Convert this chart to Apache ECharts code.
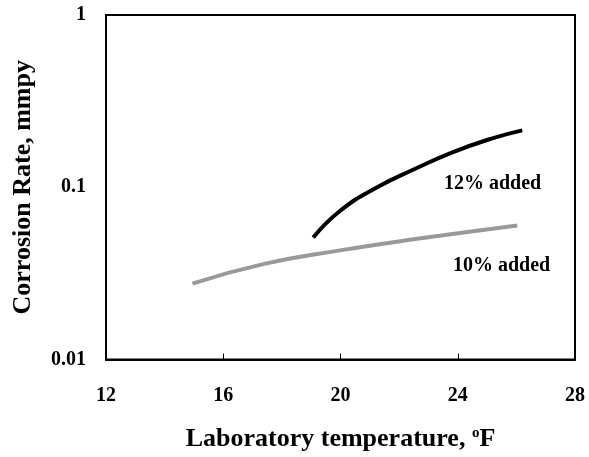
<!DOCTYPE html>
<html>
<head>
<meta charset="utf-8">
<script src="https://cdn.jsdelivr.net/npm/echarts@6/dist/echarts.min.js"></script>
<style>html,body{margin:0;padding:0;background:#fff}#main{width:589px;height:457px}</style>
</head>
<body>
<div id="main"></div>
<script>
var temp12 = [19.07, 19.99, 21.25, 22.55, 23.84, 25.12, 26.2];
var rate12 = [0.051, 0.073, 0.100, 0.128, 0.160, 0.191, 0.214];
var temp10 = [14.95, 17.4, 19.98, 22.55, 26.03];
var rate10 = [0.0276, 0.0359, 0.043, 0.050, 0.060];

var myChart = echarts.init(document.getElementById('main'));
var font = '"Liberation Serif", "Times New Roman", serif';

function pairs(xs, ys) {
    return xs.map(function (x, i) { return [x, ys[i]]; });
}

var option = {
    animation: false,
    grid: {
        left: 106, right: 14, top: 15, bottom: 97,
        show: true, borderColor: '#000', borderWidth: 2
    },
    xAxis: {
        type: 'value', min: 12, max: 28, interval: 4,
        name: 'Laboratory temperature, {s|o}F',
        nameLocation: 'middle', nameGap: 66,
        nameTextStyle: {
            fontFamily: font, fontWeight: 'bold', fontSize: 26, color: '#000',
            rich: { s: { fontFamily: font, fontWeight: 'bold', fontSize: 15, verticalAlign: 'top', color: '#000', padding: [0, 0, 12, 0] } }
        },
        axisLine: { lineStyle: { color: '#000', width: 2 } },
        axisTick: { inside: true, length: 6, lineStyle: { color: '#000' } },
        axisLabel: { fontFamily: font, fontWeight: 'bold', fontSize: 20, color: '#000', margin: 26 },
        splitLine: { show: false }
    },
    yAxis: {
        type: 'log', min: 0.01, max: 1, logBase: 10,
        name: 'Corrosion Rate, mmpy',
        nameLocation: 'middle', nameGap: 70,
        nameTextStyle: { fontFamily: font, fontWeight: 'bold', fontSize: 26, color: '#000' },
        axisLine: { lineStyle: { color: '#000', width: 2 } },
        axisTick: { show: false },
        axisLabel: { fontFamily: font, fontWeight: 'bold', fontSize: 20, color: '#000', margin: 20 },
        splitLine: { show: false },
        minorTick: { show: false }
    },
    series: [{
        name: '12% added', type: 'line', smooth: true, symbol: 'none',
        data: pairs(temp12, rate12),
        lineStyle: { color: '#000', width: 4 }
    }, {
        name: '10% added', type: 'line', smooth: true, symbol: 'none',
        data: pairs(temp10, rate10),
        lineStyle: { color: '#999', width: 4 }
    }],
    graphic: [{
        type: 'text', left: 444, top: 174,
        style: { text: '12% added', font: 'bold 20px ' + font, fill: '#000' }
    }, {
        type: 'text', left: 453, top: 256,
        style: { text: '10% added', font: 'bold 20px ' + font, fill: '#000' }
    }]
};

myChart.setOption(option);
</script>
</body>
</html>
